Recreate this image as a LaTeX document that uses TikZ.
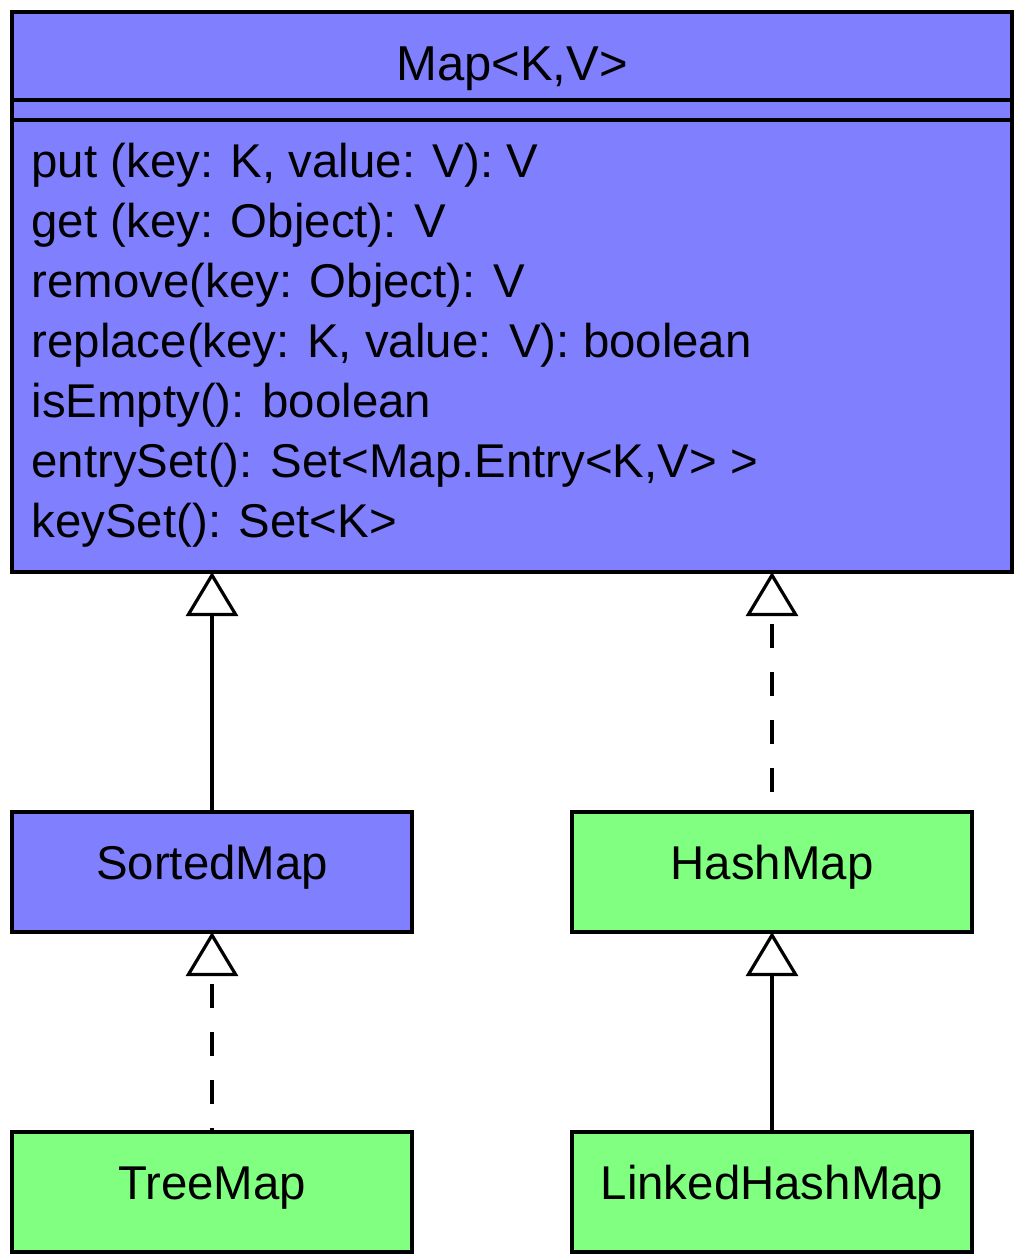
\documentclass[tikz,border=0pt]{standalone}
\usepackage{fontspec}
\setmainfont{Liberation Sans}
\usetikzlibrary{arrows.meta}
\definecolor{ifaceFill}{HTML}{8080FF}
\definecolor{implFill}{HTML}{80FF80}

\begin{document}
\begin{tikzpicture}[x=0.5pt,y=-0.5pt,
  font=\fontsize{23.7}{28}\selectfont,line width=1.6pt,
  box/.style={rectangle,draw=black,outer sep=0pt,minimum width=200pt,minimum height=60pt,text height=10pt,text depth=3pt},
  iface/.style={box,fill=ifaceFill},
  impl/.style={box,fill=implFill},
  op/.style={anchor=base west,inner sep=0pt},
  extends/.style={-{Triangle[open,fill=white,length=22pt,width=26pt]}},
  realizes/.style={extends,dash pattern=on 12pt off 12pt}
]
\useasboundingbox (0,0) rectangle (1020,1260);
% Map interface with its operations; the implementations hang below it.
\node[iface,minimum width=500pt,minimum height=280pt] (map) at (512,292) {};
\node[anchor=base,inner sep=0pt,font=\fontsize{24.5}{28}\selectfont] (mapname) at (512,80) {Map<K,V>};
\coordinate (sepA) at (512,100);
\coordinate (sepB) at (512,120);
\draw (map.west |- sepA) -- (map.east |- sepA);
\draw (map.west |- sepB) -- (map.east |- sepB);
\foreach \m [count=\i] in {{put (key: K, value: V): V},{get (key: Object): V},{remove(key: Object): V},{replace(key: K, value: V): boolean},{isEmpty(): boolean},{entrySet(): Set<Map.Entry<K,V> >},{keySet(): Set<K>}}
  \node[op] (op\i) at (30,117+60*\i) {\m};
\node[iface] (sorted) at (212,872) {SortedMap};
\node[impl] (hash) at (772,872) {HashMap};
\node[impl] (tree) at (212,1192) {TreeMap};
\node[impl] (linked) at (772,1192) {LinkedHashMap};
\draw[extends] (sorted) -- (map.south -| sorted);
\draw[realizes,dash phase=14pt] (hash) -- (map.south -| hash);
\draw[realizes,dash phase=10pt] (tree) -- (sorted);
\draw[extends] (linked) -- (hash);
\end{tikzpicture}
\end{document}
